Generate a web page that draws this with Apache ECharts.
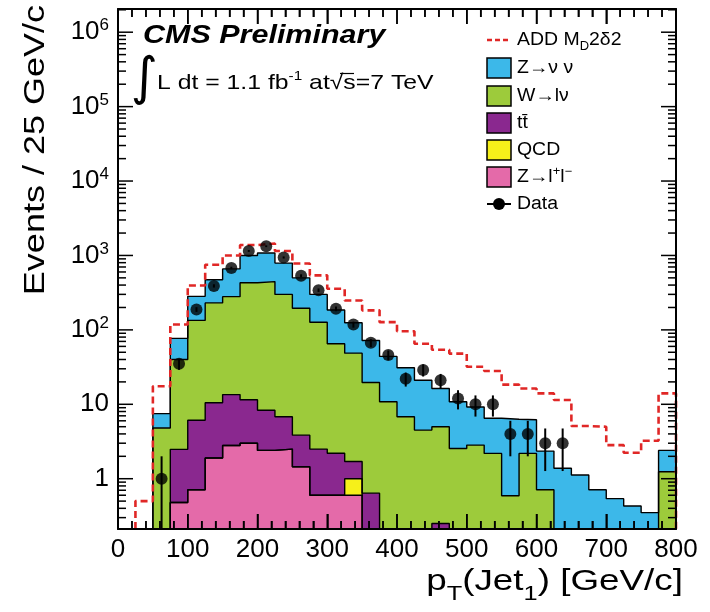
<!DOCTYPE html>
<html>
<head>
<meta charset="utf-8">
<script src="https://cdn.jsdelivr.net/npm/echarts@6/dist/echarts.min.js"></script>
<style>
  html, body { margin: 0; padding: 0; background: #ffffff; }
  #chart { width: 710px; height: 612px; }
</style>
</head>
<body>
<div id="chart"></div>
<script>
// Leading-jet pT spectrum, 25 GeV/c bins from 0 to 800 GeV/c (last bin holds overflow)
const BIN_WIDTH = 25;

// Expected events per bin for each background process
const zll   = [0, 0, 0, 0.48, 0.71, 1.9, 2.8, 3.0, 2.4, 2.5, 1.45, 0.6, 0.6, 0.6, 0, 0,
               0, 0, 0, 0, 0, 0, 0, 0, 0, 0, 0, 0, 0, 0, 0, 0];
const qcd   = [0, 0, 0, 0, 0, 0, 0, 0, 0, 0, 0, 0, 0, 0.4, 0, 0,
               0, 0, 0, 0, 0, 0, 0, 0, 0, 0, 0, 0, 0, 0, 0, 0];
const ttbar = [0, 0, 0, 2.0, 5.4, 8.6, 10.7, 8.5, 5.9, 4.3, 2.4, 1.9, 1.6, 0.7, 0.64, 0,
               0, 0, 0.25, 0, 0, 0, 0, 0, 0, 0, 0, 0, 0, 0, 0, 0];
const wlnu  = [0, 0, 4.8, 37.5, 128, 220, 266, 418, 437, 293, 191, 124, 63, 47, 19, 10.8,
               6.8, 4.5, 4.75, 2.55, 2.83, 2.19, 0.59, 2.19, 0.71, 0, 0, 0, 0, 0, 0, 1.24];
const znunu = [0, 0, 2.7, 37, 148, 240, 380, 570, 635, 490, 305, 173, 120, 76, 52.5, 33.2,
               24.2, 16.5, 11.3, 8.25, 6.37, 4.31, 5.71, 4.01, 1.64, 1.38, 1.12, 0.71, 0.54, 0.43, 0.35, 1.16];

// ADD signal expectation (M_D = 2 TeV, delta = 2)
const addSignal = [0, 0.5, 17.5, 118, 395, 750, 1000, 1380, 1450, 1150, 780, 540, 357, 248, 183, 127,
                   96, 65, 54, 48, 32, 28, 18.4, 16.3, 14, 11.4, 5.1, 5.0, 2.83, 2.23, 3.23, 14];

// Observed event counts
const observed = [0, 0, 1, 35, 188, 390, 680, 1150, 1330, 940, 535, 342, 192, 118, 67, 46,
                  22, 29, 21, 12, 10, 10, 4, 4, 3, 3, 0, 0, 0, 0, 0, 0];

// Axis ticks and ranges
const xTicks = [0, 100, 200, 300, 400, 500, 600, 700, 800];
const X_MINOR_STEP = 20;
const Y_MIN = 0.211;
const Y_MAX = 2.05e6;

const COLORS = {
  znunu: '#3cb8e9',
  wlnu: '#9dcb3b',
  ttbar: '#8a288f',
  qcd: '#f6f01a',
  zll: '#e46aa9',
  add: '#e02726'
};
const FONT = '"Liberation Sans", Arial, Helvetica, sans-serif';

const X_LO = xTicks[0];
const X_HI = xTicks[xTicks.length - 1];

// cumulative stack, bottom to top: Z->ll, QCD, ttbar, W->lnu, Z->nunu
function addArrays(a, b) { return a.map((v, i) => v + b[i]); }
const cumZll = zll.slice();
const cumQcd = addArrays(cumZll, qcd);
const cumTt = addArrays(cumQcd, ttbar);
const cumW = addArrays(cumTt, wlnu);
const cumZnn = addArrays(cumW, znunu);

// step outline of a histogram, starting at its first filled bin
function stepPoints(vals) {
  let first = 0;
  while (first < vals.length && vals[first] <= 0) first++;
  const pts = [[first * BIN_WIDTH, Y_MIN]];
  for (let i = first; i < vals.length; i++) {
    pts.push([i * BIN_WIDTH, Math.max(vals[i], Y_MIN)]);
  }
  pts.push([vals.length * BIN_WIDTH, Math.max(vals[vals.length - 1], Y_MIN)]);
  pts.push([vals.length * BIN_WIDTH, Y_MIN]);
  return pts;
}

function stackLayer(name, vals, color) {
  return {
    name: name,
    type: 'line',
    step: 'end',
    data: stepPoints(vals),
    symbol: 'none',
    showSymbol: false,
    silent: true,
    z: 2,
    itemStyle: { color: color },
    lineStyle: { color: '#000000', width: 1.4 },
    areaStyle: { color: color, opacity: 1, origin: 'start' }
  };
}

const dataPoints = [];
const errorBars = [];
observed.forEach((n, i) => {
  if (n > 0) {
    const xc = (i + 0.5) * BIN_WIDTH;
    dataPoints.push([xc, n]);
    errorBars.push([xc, n - Math.sqrt(n), n + Math.sqrt(n)]);
  }
});

// frame tick marks, one entry per mark: [x, y, major, side]
// side: 0 bottom, 1 top, 2 left, 3 right
const frameTicks = [];
for (let x = X_LO + X_MINOR_STEP; x < X_HI; x += X_MINOR_STEP) {
  const major = x % 100 === 0 ? 1 : 0;
  frameTicks.push([x, Y_MIN, major, 0]);
  frameTicks.push([x, Y_MAX, major, 1]);
}
for (let e = -1; e <= 6; e++) {
  for (let m = 1; m <= 9; m++) {
    const v = m * Math.pow(10, e);
    if (v >= Y_MIN && v <= Y_MAX) {
      frameTicks.push([X_LO, v, m === 1 ? 1 : 0, 2]);
      frameTicks.push([X_HI, v, m === 1 ? 1 : 0, 3]);
    }
  }
}

function xAxisDef(pos) {
  return {
    type: 'value', min: X_LO, max: X_HI, interval: 100, position: pos, z: 10,
    axisLine: { show: true, onZero: false, lineStyle: { color: '#000', width: 2 } },
    axisTick: { show: true, inside: true, length: 15, lineStyle: { color: '#000', width: 1.5 } },
    minorTick: { show: true, splitNumber: 5, length: 8, lineStyle: { color: '#000', width: 1.5 } },
    splitLine: { show: false },
    axisLabel: pos === 'bottom'
      ? { show: true, margin: 8, color: '#000', fontSize: 26, fontFamily: FONT }
      : { show: false }
  };
}

function yAxisDef(pos) {
  const axis = {
    type: 'log', logBase: 10, min: Y_MIN, max: Y_MAX, splitNumber: 7, position: pos, z: 10,
    axisLine: { show: true, onZero: false, lineStyle: { color: '#000', width: 2 } },
    axisTick: { show: false },
    splitLine: { show: false },
    axisLabel: { show: false }
  };
  if (pos === 'left') {
    axis.axisLabel = {
      show: true, margin: 9, color: '#000', fontSize: 26, fontFamily: FONT,
      showMinLabel: false, showMaxLabel: false,
      formatter: function (v) {
        const lg = Math.log10(v);
        const e = Math.round(lg);
        if (Math.abs(lg - e) > 1e-6) return '';
        if (e === 0) return '{b|1}';
        if (e === 1) return '{b|10}';
        return '{b|10}{s|' + e + '}';
      },
      rich: {
        b: { fontSize: 26, fontFamily: FONT, color: '#000', lineHeight: 30 },
        s: { fontSize: 17, fontFamily: FONT, color: '#000', lineHeight: 30, verticalAlign: 'top' }
      }
    };
  }
  return axis;
}

const legendRows = [
  { y: 68, color: COLORS.znunu, text: 'Z→ν ν' },
  { y: 96, color: COLORS.wlnu, text: 'W→lν' },
  { y: 123, color: COLORS.ttbar, text: 'tt̄' },
  { y: 150, color: COLORS.qcd, text: 'QCD' },
  { y: 177, color: COLORS.zll, text: 'Z→l{sup|+}l{sup|−}' }
];
const legendGraphics = [];
legendRows.forEach(r => {
  legendGraphics.push({ type: 'rect', shape: { x: 487, y: r.y - 10, width: 24, height: 20 },
                        style: { fill: r.color, stroke: '#000', lineWidth: 1.5 } });
  legendGraphics.push({ type: 'text', x: 517, y: r.y, scaleX: 1.08,
                        style: { text: r.text, fontSize: 18, fontFamily: FONT, fill: '#000', align: 'left', verticalAlign: 'middle',
                                 rich: { sup: { fontSize: 12, fontFamily: FONT, fill: '#000', verticalAlign: 'top', lineHeight: 22 } } } });
});

const option = {
  backgroundColor: '#ffffff',
  animation: false,
  grid: { left: 118, top: 9, width: 558, height: 520, outerBoundsMode: 'none', containLabel: false },
  xAxis: [xAxisDef('bottom'), xAxisDef('top')],
  yAxis: [yAxisDef('left'), yAxisDef('right')],
  series: [
    stackLayer('Z→νν', cumZnn, COLORS.znunu),
    stackLayer('W→lν', cumW, COLORS.wlnu),
    stackLayer('tt̄', cumTt, COLORS.ttbar),
    stackLayer('QCD', cumQcd, COLORS.qcd),
    stackLayer('Z→l⁺l⁻', cumZll, COLORS.zll),
    {
      name: 'ADD', type: 'line', step: 'end', data: stepPoints(addSignal),
      symbol: 'none', showSymbol: false, silent: true, z: 4,
      lineStyle: { color: COLORS.add, width: 2.6, type: [7, 4] }
    },
    {
      name: 'frame ticks', type: 'custom', data: frameTicks, z: 6, silent: true,
      encode: { x: 0, y: 1 },
      renderItem: function (params, api) {
        const p = api.coord([api.value(0), api.value(1)]);
        const len = api.value(2) ? 15 : 8;
        const side = api.value(3);
        let shape;
        if (side === 0) shape = { x1: p[0], y1: p[1], x2: p[0], y2: p[1] - len };
        else if (side === 1) shape = { x1: p[0], y1: p[1], x2: p[0], y2: p[1] + len };
        else if (side === 2) shape = { x1: p[0], y1: p[1], x2: p[0] + len, y2: p[1] };
        else shape = { x1: p[0] - len, y1: p[1], x2: p[0], y2: p[1] };
        return { type: 'line', shape: shape, style: { stroke: '#000', lineWidth: 1.5 } };
      }
    },
    {
      name: 'Data errors', type: 'custom', data: errorBars, z: 6, silent: true,
      encode: { x: 0, y: [1, 2] },
      renderItem: function (params, api) {
        const x = api.value(0);
        const lo = Math.max(api.value(1), Y_MIN);
        const hi = api.value(2);
        const p1 = api.coord([x, lo]);
        const p2 = api.coord([x, hi]);
        return { type: 'line', shape: { x1: p1[0], y1: p1[1], x2: p2[0], y2: p2[1] },
                 style: { stroke: '#000', lineWidth: 2 } };
      }
    },
    {
      name: 'Data', type: 'scatter', data: dataPoints, z: 7, silent: true,
      symbol: 'circle', symbolSize: 12, itemStyle: { color: '#000' }
    }
  ],
  graphic: [
    // axis titles
    {
      type: 'text', x: 36, y: 5, rotation: Math.PI / 2, scaleX: 1.2,
      style: { text: 'Events / 25 GeV/c', fontSize: 30, fontFamily: FONT, fill: '#000', align: 'right', verticalAlign: 'middle' }
    },
    {
      type: 'text', x: 683, y: 582, scaleX: 1.27,
      style: {
        text: 'p{sub|T}(Jet{sub|1}) [GeV/c]', fontSize: 29, fontFamily: FONT, fill: '#000', align: 'right', verticalAlign: 'middle',
        rich: { sub: { fontSize: 20, fontFamily: FONT, fill: '#000', verticalAlign: 'bottom', lineHeight: 44 } }
      }
    },
    // experiment label
    {
      type: 'text', x: 143, y: 36, scaleX: 1.22,
      style: { text: 'CMS Preliminary', fontSize: 25, fontWeight: 'bold', fontStyle: 'italic', fontFamily: FONT, fill: '#000', align: 'left', verticalAlign: 'middle' }
    },
    {
      type: 'text', x: 144, y: 80,
      style: { text: '∫', fontSize: 52, fontFamily: '"DejaVu Sans", sans-serif', fill: '#000', align: 'center', verticalAlign: 'middle' }
    },
    {
      type: 'text', x: 157, y: 83, scaleX: 1.18,
      style: {
        text: 'L dt = 1.1 fb{sup|-1} at√s=7 TeV', fontSize: 21, fontFamily: FONT, fill: '#000', align: 'left', verticalAlign: 'middle',
        rich: { sup: { fontSize: 13, fontFamily: FONT, fill: '#000', verticalAlign: 'top', lineHeight: 26 } }
      }
    },
    { type: 'line', shape: { x1: 340, y1: 73.5, x2: 354, y2: 73.5 }, style: { stroke: '#000', lineWidth: 1.2 } },
    // legend
    { type: 'line', shape: { x1: 487, y1: 40, x2: 511, y2: 40 }, style: { stroke: COLORS.add, lineWidth: 2.6, lineDash: [5, 3] } },
    {
      type: 'text', x: 517, y: 40, scaleX: 1.08,
      style: { text: 'ADD M{sub|D}2δ2', fontSize: 18, fontFamily: FONT, fill: '#000', align: 'left', verticalAlign: 'middle',
               rich: { sub: { fontSize: 12, fontFamily: FONT, fill: '#000', verticalAlign: 'bottom', lineHeight: 26 } } }
    }
  ].concat(legendGraphics, [
    { type: 'line', shape: { x1: 487, y1: 204, x2: 511, y2: 204 }, style: { stroke: '#000', lineWidth: 2 } },
    { type: 'circle', shape: { cx: 499, cy: 204, r: 6 }, style: { fill: '#000' } },
    { type: 'text', x: 517, y: 204, scaleX: 1.08, style: { text: 'Data', fontSize: 18, fontFamily: FONT, fill: '#000', align: 'left', verticalAlign: 'middle' } }
  ])
};

const chart = echarts.init(document.getElementById('chart'), null, { renderer: 'canvas' });
chart.setOption(option);
</script>
</body>
</html>
